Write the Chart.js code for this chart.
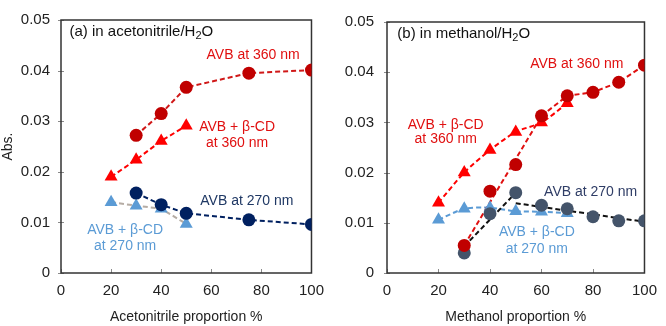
<!DOCTYPE html>
<html lang="en">
<head>
  <meta charset="UTF-8" />
  <title>AVB absorbance vs solvent proportion</title>
  <script src="https://cdn.jsdelivr.net/npm/chart.js"></script>
  <style>
    body { margin: 0; background: #fff; }
    .wrap { display: flex; width: 666px; height: 326px; }
    canvas { display: block; }
  </style>
</head>
<body>
  <div class="wrap">
    <canvas id="chartA" width="333" height="326"></canvas>
    <canvas id="chartB" width="333" height="326"></canvas>
  </div>

  <script>
    // ---- data ----
    // (a) acetonitrile / water
    const acnX = [30, 40, 50, 75, 100];
    const acnAvb360 = [0.0272, 0.0315, 0.0367, 0.0395, 0.0401];
    const acnAvb270 = [0.0158, 0.0135, 0.0118, 0.0105, 0.0096];
    const acnCdX = [20, 30, 40, 50];
    const acnCd360 = [0.0190, 0.0224, 0.0261, 0.0291];
    const acnCd270 = [0.0140, 0.0133, 0.0127, 0.0097];

    // (b) methanol / water
    const meohX = [30, 40, 50, 60, 70, 80, 90, 100];
    const meohAvb360 = [0.0055, 0.0163, 0.0216, 0.0313, 0.0353, 0.0360, 0.0380, 0.0414];
    const meohAvb270 = [0.0040, 0.0118, 0.0160, 0.0135, 0.0128, 0.0112, 0.0104, 0.0104];
    const meohCdX = [20, 30, 40, 50, 60, 70];
    const meohCd360 = [0.0140, 0.0200, 0.0245, 0.0281, 0.0300, 0.0338];
    const meohCd270 = [0.0106, 0.0128, 0.0130, 0.0123, 0.0122, 0.0119];

    // dashed trend segments drawn in panel (b)
    const meoh360TrendX = [30, 60];
    const meoh360Trend = [0.0055, 0.0313];
    const meoh270TrendAX = [30, 50];
    const meoh270TrendA = [0.0053, 0.0160];
    const meoh270TrendBX = [50, 100];
    const meoh270TrendB = [0.0139, 0.0102];

    const xTicks = [0, 20, 40, 60, 80, 100];
    const yTicks = [0, 0.01, 0.02, 0.03, 0.04, 0.05];

    const FONT = '"Liberation Sans", Arial, sans-serif';
    const RED_DK = '#c00000', RED = '#ff0000', NAVY = '#002060', SLATE = '#44546a', LBLUE = '#5b9bd5';

    const pts = (xs, ys) => xs.map((x, i) => ({ x, y: ys[i] }));

    function markers(xs, ys, color, style, r) {
      return {
        data: pts(xs, ys), showLine: false, pointStyle: style,
        pointRadius: r, pointBackgroundColor: color, pointBorderColor: color, pointBorderWidth: 0
      };
    }
    function dashed(xs, ys, color, tension) {
      return {
        data: pts(xs, ys), showLine: true, pointRadius: 0, borderColor: color,
        borderWidth: 2, borderDash: [5, 3], tension: tension || 0, fill: false
      };
    }

    // plot box + small tick marks
    const frame = {
      id: 'frame',
      beforeDatasetsDraw(chart) {
        const { ctx, chartArea: a, scales: { x, y } } = chart;
        ctx.save();
        ctx.strokeStyle = '#8a8a8a';
        ctx.lineWidth = 1;
        ctx.beginPath();
        xTicks.forEach(v => {
          const px = Math.round(x.getPixelForValue(v)) + 0.5;
          ctx.moveTo(px, a.bottom); ctx.lineTo(px, a.bottom - 4);
        });
        yTicks.forEach(v => {
          const py = Math.round(y.getPixelForValue(v)) + 0.5;
          ctx.moveTo(a.left - 3, py); ctx.lineTo(a.left + 3, py);
        });
        ctx.stroke();
        ctx.strokeStyle = '#333';
        ctx.lineWidth = 1.5;
        ctx.strokeRect(a.left, a.top, a.right - a.left, a.bottom - a.top);
        ctx.restore();
      }
    };

    // text notes, placed in data units
    const notes = {
      id: 'notes',
      afterDatasetsDraw(chart, args, opts) {
        const { ctx, scales: { x, y } } = chart;
        ctx.save();
        ctx.textBaseline = 'middle';
        opts.items.forEach(it => {
          const px = x.getPixelForValue(it.x), py = y.getPixelForValue(it.y);
          ctx.fillStyle = it.color;
          if (it.parts) {
            let cx = px;
            ctx.textAlign = 'left';
            it.parts.forEach(p => {
              ctx.font = (p.sub ? 11 : 15) + 'px ' + FONT;
              ctx.fillText(p.t, cx, py + (p.sub ? 4 : 0));
              cx += ctx.measureText(p.t).width;
            });
          } else {
            ctx.font = '14px ' + FONT;
            ctx.textAlign = 'center';
            ctx.fillText(it.text, px, py);
          }
        });
        ctx.restore();
      }
    };

    function makeChart(id, datasets, items, opt) {
      return new Chart(document.getElementById(id), {
        type: 'scatter',
        data: { datasets },
        options: {
          responsive: false,
          animation: false,
          layout: { padding: { left: 0, right: opt.padRight, top: 8, bottom: 0 } },
          plugins: { legend: { display: false }, tooltip: { enabled: false }, notes: { items } },
          scales: {
            x: {
              type: 'linear', min: 0, max: 100,
              grid: { display: false, drawTicks: false },
              border: { display: false },
              ticks: { stepSize: 20, padding: 9, color: '#222', font: { family: FONT, size: 15 } },
              title: { display: true, text: opt.xTitle, color: '#222', padding: 0, font: { family: FONT, size: 14 } },
              afterFit: s => { s.height = 53; }
            },
            y: {
              min: 0, max: 0.05,
              grid: { display: false, drawTicks: false },
              border: { display: false },
              ticks: {
                stepSize: 0.01, padding: opt.yPad, color: '#222', font: { family: FONT, size: 15 },
                callback: v => v === 0 ? '0' : v.toFixed(2)
              },
              title: { display: opt.yTitle !== '', text: opt.yTitle, color: '#222', padding: 0, font: { family: FONT, size: 14 } },
              afterFit: s => { s.width = opt.yWidth; }
            }
          }
        },
        plugins: [frame, notes]
      });
    }

    makeChart('chartA', [
      markers(acnX, acnAvb360, RED_DK, 'circle', 6.5),
      markers(acnCdX, acnCd360, RED, 'triangle', 7.5),
      markers(acnX, acnAvb270, NAVY, 'circle', 6.5),
      markers(acnCdX, acnCd270, LBLUE, 'triangle', 7.5),
      dashed(acnX, acnAvb360, '#d01818'),
      dashed(acnCdX, acnCd360, RED),
      dashed(acnX, acnAvb270, NAVY),
      dashed(acnCdX, acnCd270, '#b5aca4')
    ], [
      { parts: [{ t: '(a) in acetonitrile/H' }, { t: '2', sub: true }, { t: 'O' }], x: 3.4, y: 0.0477, color: '#111' },
      { text: 'AVB at 360 nm', x: 76.7, y: 0.0430, color: '#e01010' },
      { text: 'AVB + β-CD', x: 70.3, y: 0.0289, color: '#e01010' },
      { text: 'at 360 nm', x: 70.3, y: 0.0257, color: '#e01010' },
      { text: 'AVB at 270 nm', x: 74.2, y: 0.01415, color: '#1f3864' },
      { text: 'AVB + β-CD', x: 25.6, y: 0.0085, color: LBLUE },
      { text: 'at 270 nm', x: 25.6, y: 0.0053, color: LBLUE }
    ], { xTitle: 'Acetonitrile proportion %', yTitle: 'Abs.', yWidth: 61, yPad: 11, padRight: 6 });

    makeChart('chartB', [
      markers(meohX, meohAvb360, RED_DK, 'circle', 6.5),
      markers(meohCdX, meohCd360, RED, 'triangle', 7.5),
      markers(meohX, meohAvb270, SLATE, 'circle', 6.5),
      markers(meohCdX, meohCd270, LBLUE, 'triangle', 7.5),
      dashed(meoh360TrendX, meoh360Trend, '#e01010'),
      dashed(meohX.slice(3), meohAvb360.slice(3), '#e01010'),
      dashed(meohCdX, meohCd360, RED, 0.25),
      dashed(meoh270TrendAX, meoh270TrendA, '#111'),
      dashed(meoh270TrendBX, meoh270TrendB, '#111'),
      dashed(meohCdX, meohCd270, LBLUE, 0.25)
    ], [
      { parts: [{ t: '(b) in methanol/H' }, { t: '2', sub: true }, { t: 'O' }], x: 4.0, y: 0.0477, color: '#111' },
      { text: 'AVB at 360 nm', x: 73.7, y: 0.0417, color: '#e01010' },
      { text: 'AVB + β-CD', x: 22.8, y: 0.0294, color: '#e01010' },
      { text: 'at 360 nm', x: 22.8, y: 0.0266, color: '#e01010' },
      { text: 'AVB at 270 nm', x: 79.1, y: 0.0162, color: '#2f3d66' },
      { text: 'AVB + β-CD', x: 58.2, y: 0.0081, color: LBLUE },
      { text: 'at 270 nm', x: 58.2, y: 0.0047, color: LBLUE }
    ], { xTitle: 'Methanol proportion %', yTitle: '', yWidth: 54, yPad: 13, padRight: 13 });
  </script>
</body>
</html>
